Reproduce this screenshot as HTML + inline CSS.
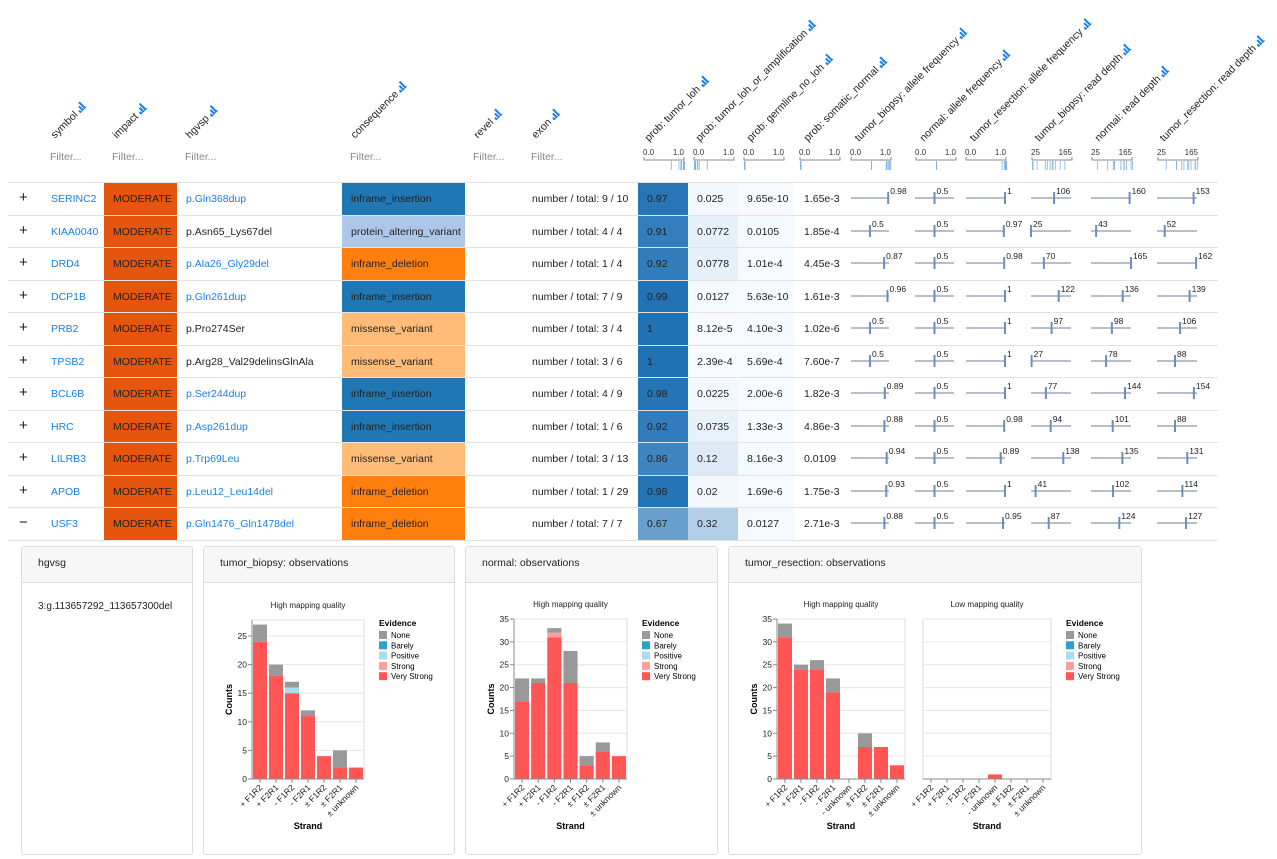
<!DOCTYPE html>
<html><head><meta charset="utf-8">
<style>
body{margin:0;width:1277px;height:859px;overflow:hidden;background:#fff;font-family:"Liberation Sans",sans-serif;font-size:10.5px;color:#222;position:relative}
.a{position:absolute;white-space:nowrap}
.hl{position:absolute;transform:rotate(-45deg);transform-origin:0 100%;font-size:10.5px;line-height:12px;white-space:nowrap}
.ic{display:inline-block;width:9px;height:9px;margin-left:3px;vertical-align:0}
.flt{position:absolute;top:151px;color:#888;font-size:10.5px}
.hr{position:absolute;left:8px;width:1210px;height:1px;background:#e2e2e2}
.cell{position:absolute;height:32px;line-height:32px;padding-left:9px;box-sizing:border-box;white-space:nowrap;font-size:10.5px}
.lnk{color:#1a7fe8}
.panel{position:absolute;top:546px;height:309px;border:1px solid #ddd;border-radius:3px;box-sizing:border-box;background:#fff}
.ph{height:35px;line-height:33px;background:#f7f7f7;border-bottom:1px solid #ddd;padding-left:16px;font-size:10.5px}
</style></head><body>
<div id="hdr"></div>
<div id="tbl"></div>
<div class="panel" style="left:21px;width:172px"><div class="ph">hgvsg</div><div style="padding:18px 0 0 16px;font-size:10px">3:g.113657292_113657300del</div></div>
<div class="panel" style="left:203px;width:252px"><div class="ph">tumor_biopsy: observations</div></div>
<div class="panel" style="left:465px;width:253px"><div class="ph">normal: observations</div></div>
<div class="panel" style="left:728px;width:414px"><div class="ph">tumor_resection: observations</div></div>
<svg id="charts" width="1277" height="859" style="position:absolute;left:0;top:0;pointer-events:none"></svg>
<script>
const symbols=["SERINC2","KIAA0040","DRD4","DCP1B","PRB2","TPSB2","BCL6B","HRC","LILRB3","APOB","USF3"];
const hgvsp=["p.Gln368dup","p.Asn65_Lys67del","p.Ala26_Gly29del","p.Gln261dup","p.Pro274Ser","p.Arg28_Val29delinsGlnAla","p.Ser244dup","p.Asp261dup","p.Trp69Leu","p.Leu12_Leu14del","p.Gln1476_Gln1478del"];
const hgvspLink=[1,0,1,1,0,0,1,1,1,1,1];
const consequence=["inframe_insertion","protein_altering_variant","inframe_deletion","inframe_insertion","missense_variant","missense_variant","inframe_insertion","inframe_insertion","missense_variant","inframe_deletion","inframe_deletion"];
const exon=["9 / 10","4 / 4","1 / 4","7 / 9","3 / 4","3 / 6","4 / 9","1 / 6","3 / 13","1 / 29","7 / 7"];
const probLoh=["0.97","0.91","0.92","0.99","1","1","0.98","0.92","0.86","0.98","0.67"];
const probAmp=["0.025","0.0772","0.0778","0.0127","8.12e-5","2.39e-4","0.0225","0.0735","0.12","0.02","0.32"];
const probGerm=["9.65e-10","0.0105","1.01e-4","5.63e-10","4.10e-3","5.69e-4","2.00e-6","1.33e-3","8.16e-3","1.69e-6","0.0127"];
const probSom=["1.65e-3","1.85e-4","4.45e-3","1.61e-3","1.02e-6","7.60e-7","1.82e-3","4.86e-3","0.0109","1.75e-3","2.71e-3"];
const biopsyAF=[0.98,0.5,0.87,0.96,0.5,0.5,0.89,0.88,0.94,0.93,0.88];
const normalAF=[0.5,0.5,0.5,0.5,0.5,0.5,0.5,0.5,0.5,0.5,0.5];
const resectionAF=[1,0.97,0.98,1,1,1,1,0.98,0.89,1,0.95];
const biopsyDP=[106,25,70,122,97,27,77,94,138,41,87];
const normalDP=[160,43,165,136,98,78,144,101,135,102,124];
const resectionDP=[153,52,162,139,106,88,154,88,131,114,127];

const conColor={inframe_insertion:"#1f77b4",protein_altering_variant:"#aec7e8",inframe_deletion:"#ff7f0e",missense_variant:"#ffbb78"};
function blues(v){const a=[247,251,255],b=[33,113,181];return "rgb("+a.map((x,i)=>Math.round(x+(b[i]-x)*v)).join(",")+")";}
const icon='<svg class="ic" viewBox="0 0 9 9"><rect x="0" y="6" width="2" height="3" fill="#1a7fe8"/><rect x="3" y="3" width="2" height="6" fill="#1a7fe8"/><rect x="6" y="0" width="2" height="9" fill="#1a7fe8"/><rect x="0" y="8" width="9" height="1" fill="#1a7fe8"/></svg>';
const hdr=document.getElementById('hdr');
const heads=[["symbol",52,138],["impact",114,138],["hgvsp",187,138],["consequence",352,138],["revel",475,138],["exon",533,138],["prob: tumor_loh",646,141],["prob: tumor_loh_or_amplification",697,141],["prob: germline_no_loh",748,141],["prob: somatic_normal",805,141],["tumor_biopsy: allele frequency",856,141],["normal: allele frequency",921,141],["tumor_resection: allele frequency",971,141],["tumor_biopsy: read depth",1036,141],["normal: read depth",1096,141],["tumor_resection: read depth",1161,141]];
heads.forEach(h=>{const d=document.createElement('div');d.className='hl';d.style.left=(h[1]+5)+'px';d.style.top=(h[2]-9)+'px';d.innerHTML=h[0]+icon;


hdr.appendChild(d);});
[50,112,185,350,473,531].forEach(x=>{const f=document.createElement('div');f.className='flt';f.style.left=x+'px';f.textContent='Filter...';


hdr.appendChild(f);});
const brushes=[[644,684,probLoh.map(Number),0,1,"0.0","1.0"],[694,734,probAmp.map(Number),0,1,"0.0","1.0"],[744,784,probGerm.map(Number),0,1,"0.0","1.0"],[800,840,probSom.map(Number),0,1,"0.0","1.0"],[851,891,biopsyAF,0,1,"0.0","1.0"],[916,956,normalAF,0,1,"0.0","1.0"],[966,1006,resectionAF,0,1,"0.0","1.0"],[1032,1072,biopsyDP,25,165,"25","165"],[1092,1132,normalDP,25,165,"25","165"],[1158,1198,resectionDP,25,165,"25","165"]];
let hs='';
brushes.forEach(b=>{const[x0,x1,vals,d0,d1,l0,l1]=b;
hs+=`<text x="${x0-1}" y="155" font-size="8" fill="#333">${l0}</text><text x="${x1}" y="155" font-size="8" text-anchor="end" fill="#333">${l1}</text>`;
hs+=`<path d="M${x0} 157V160H${x1}V157" stroke="#888" fill="none" stroke-width="1"/>`;
vals.forEach(v=>{const x=x0+(v-d0)/(d1-d0)*(x1-x0);hs+=`<rect x="${x.toFixed(1)}" y="161" width="1" height="9" fill="#7fb2e5" opacity="0.8"/>`;});});
const tbl=document.getElementById('tbl');
const ROW0=182,RH=32.5;
let html='';
html+=`<div class="hr" style="top:${ROW0}px"></div>`;
let s='';
function bar(x0,x1,v,d0,d1,cy,lab){const x=x0+(v-d0)/(d1-d0)*(x1-x0);
return `<line x1="${x0}" y1="${cy}" x2="${x1}" y2="${cy}" stroke="#6b8198" stroke-width="1"/><rect x="${(x-1).toFixed(1)}" y="${cy-6}" width="2" height="12" fill="#6b8fb8"/><text x="${(x+2).toFixed(1)}" y="${cy-4}" font-size="8.5" fill="#222">${lab}</text>`;}
symbols.forEach((sym,i)=>{const top=ROW0+1+i*RH,cy=Math.round(top+15);
const t=Math.round(top);
html+=`<div class="a" style="left:19px;top:${t+7}px;font-size:15px;line-height:16px">${i==10?'&minus;':'+'}</div>`;
html+=`<div class="cell lnk" style="left:42px;top:${t}px">${sym}</div>`;
html+=`<div class="cell" style="left:104px;width:73px;top:${t}px;background:#e6550d">MODERATE</div>`;
html+=`<div class="cell ${hgvspLink[i]?'lnk':''}" style="left:177px;top:${t}px">${hgvsp[i]}</div>`;
html+=`<div class="cell" style="left:342px;top:${t}px;width:123px;background:${conColor[consequence[i]]}">${consequence[i]}</div>`;
html+=`<div class="cell" style="left:523px;top:${t}px">number / total: ${exon[i]}</div>`;
html+=`<div class="cell" style="left:638px;top:${t}px;width:50px;background:${blues(+probLoh[i])}">${probLoh[i]}</div>`;
html+=`<div class="cell" style="left:688px;top:${t}px;width:50px;background:${blues(+probAmp[i])}">${probAmp[i]}</div>`;
html+=`<div class="cell" style="left:738px;top:${t}px;width:56px;background:${blues(+probGerm[i])}">${probGerm[i]}</div>`;
html+=`<div class="cell" style="left:795px;top:${t}px">${probSom[i]}</div>`;
html+=`<div class="hr" style="top:${Math.round(top+RH-1)}px"></div>`;
s+=bar(851,889,biopsyAF[i],0,1,cy,biopsyAF[i]);
s+=bar(915,954,normalAF[i],0,1,cy,normalAF[i]);
s+=bar(966,1005,resectionAF[i],0,1,cy,resectionAF[i]);
s+=bar(1031,1071,biopsyDP[i],25,165,cy,biopsyDP[i]);
s+=bar(1091,1131,normalDP[i],25,165,cy,normalDP[i]);
s+=bar(1157,1197,resectionDP[i],25,165,cy,resectionDP[i]);
});
tbl.innerHTML=html;

const strand7=["+ F1R2","+ F2R1","- F1R2","- F2R1","± F1R2","± F2R1","± unknown"];
const strand8=["+ F1R2","+ F2R1","- F1R2","- F2R1","- unknown","± F1R2","± F2R1","± unknown"];
const evidence=["None","Barely","Positive","Strong","Very Strong"];
const evColor=["#999999","#2ca1c9","#a8dcee","#ff9c9c","#ff5555"];
const biopsyVS=[24,18,15,11,4,2,2], biopsyStrong=[0,0,0,0,0,0,0], biopsyPos=[0,0,1,0,0,0,0], biopsyNone=[3,2,1,1,0,3,0];
const normalVS=[17,21,31,21,3,6,5], normalStrong=[0,0,1,0,0,0,0], normalPos=[0,0,0,0,0,0,0], normalNone=[5,1,1,7,2,2,0];
const resHighVS=[31,24,24,19,0,7,7,3], resHighStrong=[0,0,0,0,0,0,0,0], resHighPos=[0,0,0,0,0,0,0,0], resHighNone=[3,1,2,3,0,3,0,0];
const resLowVS=[0,0,0,0,1,0,0,0], resLowStrong=[0,0,0,0,0,0,0,0], resLowPos=[0,0,0,0,0,0,0,0], resLowNone=[0,0,0,0,0,0,0,0];
const ticks28=[0,5,10,15,20,25], ticks35=[0,5,10,15,20,25,30,35];

function chart(x0,w,top,bot,ymax,ticks,cats,series,title,showY){
  const y=v=>bot-v/ymax*(bot-top), bw=w/cats.length;
  let o=`<text x="${x0+w/2}" y="${top-12}" font-size="8" text-anchor="middle" fill="#222">${title}</text>`;
  o+=`<rect x="${x0}" y="${top}" width="${w}" height="${bot-top}" fill="none" stroke="#ddd"/>`;
  ticks.forEach(t=>{o+=`<line x1="${x0}" x2="${x0+w}" y1="${y(t)}" y2="${y(t)}" stroke="#e6e6e6"/>`;
    if(showY)o+=`<text x="${x0-5}" y="${y(t)+3}" font-size="8.5" text-anchor="end" fill="#222">${t}</text><line x1="${x0-4}" x2="${x0}" y1="${y(t)}" y2="${y(t)}" stroke="#888"/>`;});
  cats.forEach((c,i)=>{let acc=0;const bx=x0+i*bw+1;
    series.forEach(([vals,col])=>{const v=vals[i];if(v>0){o+=`<rect x="${bx}" y="${y(acc+v)}" width="${bw-2}" height="${y(acc)-y(acc+v)}" fill="${col}"/>`;acc+=v;}});
    const cx=x0+i*bw+bw/2;
    o+=`<line x1="${cx}" x2="${cx}" y1="${bot}" y2="${bot+4}" stroke="#888"/><text transform="translate(${cx+3},${bot+9}) rotate(-45)" font-size="8.5" text-anchor="end" fill="#222">${c}</text>`;});
  o+=`<line x1="${x0}" x2="${x0+w}" y1="${bot}" y2="${bot}" stroke="#888"/>`;
  if(showY)o+=`<line x1="${x0}" x2="${x0}" y1="${top}" y2="${bot}" stroke="#888"/><text transform="translate(${x0-20},${(top+bot)/2}) rotate(-90)" font-size="9" font-weight="bold" text-anchor="middle">Counts</text>`;
  o+=`<text x="${x0+w/2}" y="${bot+50}" font-size="9" font-weight="bold" text-anchor="middle">Strand</text>`;
  return o;}
function legend(x,y){let o=`<text x="${x}" y="${y}" font-size="8.5" font-weight="bold">Evidence</text>`;
  evidence.forEach((e,i)=>{o+=`<rect x="${x}" y="${y+5+i*10.3}" width="8" height="8" fill="${evColor[i]}"/><text x="${x+12}" y="${y+12+i*10.3}" font-size="8">${e}</text>`;});return o;}
function ser(vs,st,pos,no){return [[vs,evColor[4]],[st,evColor[3]],[pos,evColor[2]],[no,evColor[0]]];}
s+=chart(252,112,620,779,27.8,ticks28,strand7,ser(biopsyVS,biopsyStrong,biopsyPos,biopsyNone),"High mapping quality",true)+legend(379,626);
s+=chart(514,113,619,779,35,ticks35,strand7,ser(normalVS,normalStrong,normalPos,normalNone),"High mapping quality",true)+legend(642,626);
s+=chart(777,128,619,779,35,ticks35,strand8,ser(resHighVS,resHighStrong,resHighPos,resHighNone),"High mapping quality",true);
s+=chart(923,128,619,779,35,ticks35,strand8,ser(resLowVS,resLowStrong,resLowPos,resLowNone),"Low mapping quality",false)+legend(1066,626);
document.getElementById('charts').innerHTML=hs+s;
</script>
</body></html>
